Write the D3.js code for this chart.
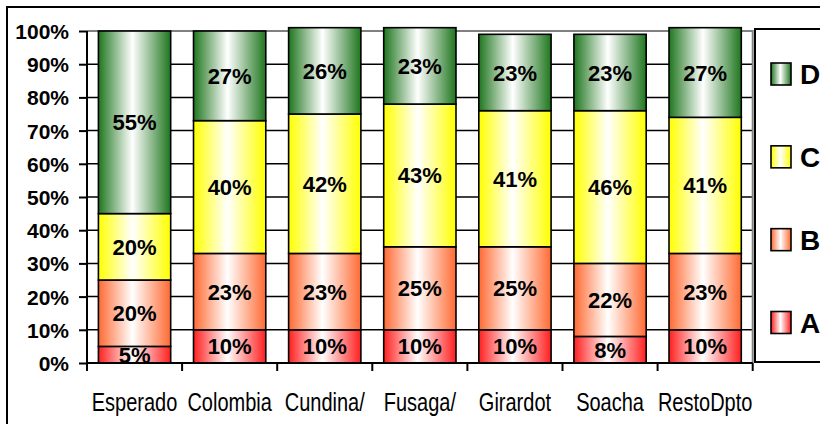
<!DOCTYPE html>
<html>
<head>
<meta charset="utf-8">
<script src="https://cdn.jsdelivr.net/npm/d3@7"></script>
<style>
  body { margin: 0; background: #fff; }
  svg { display: block; }
</style>
</head>
<body>
<svg id="chart" width="820" height="424"></svg>
<script>
'use strict';

// categories and series (percent)
var categories = ['Esperado', 'Colombia', 'Cundina/', 'Fusaga/', 'Girardot', 'Soacha', 'RestoDpto'];
var seriesNames = ['A', 'B', 'C', 'D'];
var valuesA = [5, 10, 10, 10, 10, 8, 10];
var valuesB = [20, 23, 23, 25, 25, 22, 23];
var valuesC = [20, 40, 42, 43, 41, 46, 41];
var valuesD = [55, 27, 26, 23, 23, 23, 27];
var yTicks = [0, 10, 20, 30, 40, 50, 60, 70, 80, 90, 100];

var edgeColors = { A: '#ff1f1f', B: '#ff6a33', C: '#ffff00', D: '#1f761f' };

var rows = categories.map(function(c, i) {
  return { cat: c, A: valuesA[i], B: valuesB[i], C: valuesC[i], D: valuesD[i] };
});

var svg = d3.select('#chart');

// outer chart border (only top and left fall inside the window)
svg.append('rect')
  .attr('x', 7).attr('y', 7).attr('width', 840).attr('height', 440)
  .attr('fill', '#fff').attr('stroke', '#000').attr('stroke-width', 2);

// gradients: coloured edges, white middle
var defs = svg.append('defs');
seriesNames.forEach(function(s) {
  var g = defs.append('linearGradient').attr('id', 'grad' + s)
    .attr('x1', '0%').attr('x2', '100%').attr('y1', '0%').attr('y2', '0%');
  g.append('stop').attr('offset', '0%').attr('stop-color', edgeColors[s]);
  g.append('stop').attr('offset', '47%').attr('stop-color', '#ffffff');
  g.append('stop').attr('offset', '100%').attr('stop-color', edgeColors[s]);
});

var plotLeft = 87, plotRight = 752.7, plotTop = 31, plotBottom = 363;

var x = d3.scaleBand().domain(categories).range([plotLeft, plotRight]).paddingInner(0.24).paddingOuter(0.12);
var xAxisScale = d3.scaleBand().domain(categories).range([plotLeft, plotRight]);
var y = d3.scaleLinear().domain([0, 100]).range([plotBottom, plotTop]);

// gridlines
svg.append('g').selectAll('line').data(yTicks.slice(1, -1)).enter().append('line')
  .attr('x1', plotLeft).attr('x2', plotRight)
  .attr('y1', function(d) { return y(d); }).attr('y2', function(d) { return y(d); })
  .attr('stroke', '#000').attr('stroke-width', 1.5);

// plot area border (grey top and right)
svg.append('path')
  .attr('d', 'M' + plotLeft + ',' + plotTop + 'H' + plotRight + 'V' + plotBottom)
  .attr('fill', 'none').attr('stroke', '#808080').attr('stroke-width', 2);

// stacked bars
var stack = d3.stack().keys(seriesNames);
var stacked = stack(rows);

var layers = svg.append('g').selectAll('g').data(stacked).enter().append('g')
  .attr('fill', function(d) { return 'url(#grad' + d.key + ')'; });

layers.selectAll('rect').data(function(d) { return d; }).enter().append('rect')
  .attr('x', function(d) { return x(d.data.cat); })
  .attr('width', x.bandwidth())
  .attr('y', function(d) { return y(d[1]); })
  .attr('height', function(d) { return y(d[0]) - y(d[1]); })
  .attr('stroke', '#000').attr('stroke-width', 1.6);

// data labels, clipped at the x axis
defs.append('clipPath').attr('id', 'plotClip').append('rect')
  .attr('x', plotLeft).attr('y', 0).attr('width', plotRight - plotLeft).attr('height', plotBottom - 1);

var labels = svg.append('g').attr('clip-path', 'url(#plotClip)');
stacked.forEach(function(layer) {
  labels.selectAll('text.l' + layer.key).data(layer).enter().append('text')
    .attr('class', 'l' + layer.key)
    .attr('x', function(d) { return x(d.data.cat) + x.bandwidth() / 2; })
    .attr('y', function(d) { return (y(d[0]) + y(d[1])) / 2 + 8; })
    .attr('text-anchor', 'middle')
    .attr('font-family', 'Liberation Sans, Arial, sans-serif')
    .attr('font-weight', 'bold').attr('font-size', 22)
    .text(function(d) { return (d[1] - d[0]) + '%'; });
});

// y axis
var yAxis = svg.append('g').attr('transform', 'translate(' + plotLeft + ',0)')
  .call(d3.axisLeft(y).tickValues(yTicks).tickSize(8).tickPadding(10)
    .tickFormat(function(d) { return d + '%'; }));
yAxis.select('.domain').attr('stroke', '#000').attr('stroke-width', 2).attr('d', 'M0,' + plotTop + 'V' + plotBottom);
yAxis.selectAll('.tick line').attr('stroke', '#000').attr('stroke-width', 2);
yAxis.selectAll('.tick text')
  .attr('font-family', 'Liberation Sans, Arial, sans-serif')
  .attr('font-weight', 'bold').attr('font-size', 21).attr('fill', '#000').attr('dy', '0.36em');

// x axis
var xAxis = svg.append('g').attr('transform', 'translate(0,' + plotBottom + ')')
  .call(d3.axisBottom(xAxisScale).tickSize(0).tickPadding(0));
xAxis.select('.domain').remove();
xAxis.append('line').attr('x1', plotLeft - 1).attr('x2', plotRight).attr('stroke', '#000').attr('stroke-width', 2);
xAxis.selectAll('line.tk').data(d3.range(categories.length + 1)).enter().append('line')
  .attr('class', 'tk')
  .attr('x1', function(i) { return plotLeft + i * xAxisScale.step(); })
  .attr('x2', function(i) { return plotLeft + i * xAxisScale.step(); })
  .attr('y1', 0).attr('y2', 8).attr('stroke', '#000').attr('stroke-width', 2);
// narrow look: squeeze the labels horizontally
xAxis.selectAll('.tick text')
  .attr('y', 48).attr('dy', 0)
  .attr('transform', 'scale(0.8,1)')
  .attr('font-family', 'Liberation Sans, Arial, sans-serif')
  .attr('font-size', 25).attr('fill', '#000');

// legend
svg.append('rect')
  .attr('x', 755).attr('y', 29).attr('width', 100).attr('height', 333)
  .attr('fill', '#fff').attr('stroke', '#000').attr('stroke-width', 2);

var legendY = d3.scalePoint().domain(seriesNames.slice().reverse()).range([74, 322.5]);
var items = svg.append('g').selectAll('g').data(seriesNames).enter().append('g')
  .attr('transform', function(d) { return 'translate(771,' + legendY(d) + ')'; });
items.append('rect')
  .attr('x', 0).attr('y', -11).attr('width', 20).attr('height', 22)
  .attr('fill', function(d) { return 'url(#grad' + d + ')'; })
  .attr('stroke', '#000').attr('stroke-width', 1.6);
items.append('text')
  .attr('x', 29).attr('y', 10)
  .attr('font-family', 'Liberation Sans, Arial, sans-serif')
  .attr('font-weight', 'bold').attr('font-size', 28)
  .text(function(d) { return d; });
</script>
</body>
</html>
